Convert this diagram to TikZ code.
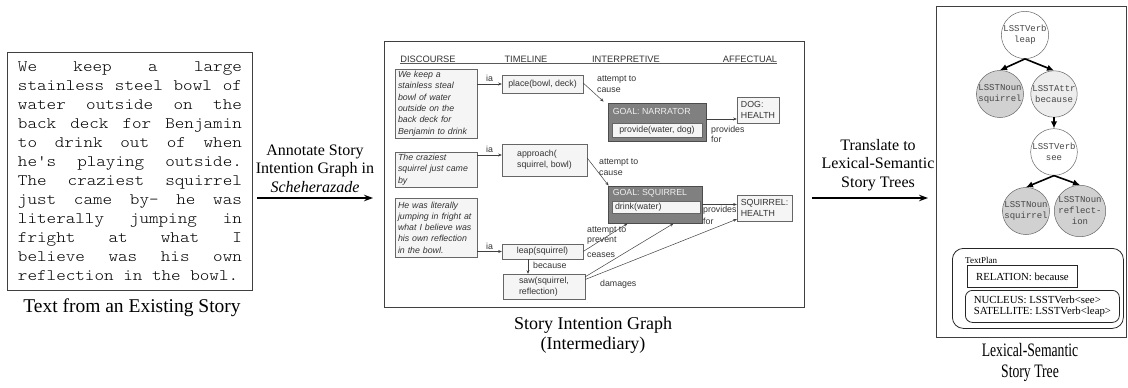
\documentclass[tikz,border=0pt]{standalone}
\usepackage{fontspec}
\usepackage{graphicx}
\setmainfont{Liberation Serif}
\newfontfamily\sigsans{Liberation Sans}
\newfontfamily\courierlike{Liberation Mono}
\newfontfamily\typewriter[FakeStretch=1.14]{Latin Modern Mono Light}
\usetikzlibrary{arrows.meta,calc}

% one justified line of the story text
\newcommand\jl[1]{\hbox to 224pt{#1}}

\tikzset{
  panel/.style={draw=black!75, line width=0.9pt, inner sep=0pt},
  captiontext/.style={font=\fontsize{18}{20}\selectfont, align=center, inner sep=0pt},
  steplabel/.style={font=\fontsize{16}{18.5}\selectfont, align=center, inner sep=0pt},
  bigarrow/.style={-{Stealth[length=9pt,width=6.5pt]}, line width=1.1pt},
  sigtxt/.style={font=\sigsans\fontsize{8.8}{10.8}\selectfont, text=black!80, align=left, inner sep=0pt},
  hdr/.style={font=\sigsans\fontsize{9.3}{11}\selectfont, text=black!80, inner sep=0pt},
  discbox/.style={draw=black!60, fill=black!4, text=black!80, text width=76pt, align=left,
    inner xsep=3pt, inner ysep=1pt, font=\sigsans\itshape\fontsize{8.8}{11.3}\selectfont},
  evbox/.style={draw=black!60, fill=black!4, text=black!80, align=left, inner sep=2pt,
    font=\sigsans\fontsize{8.8}{11}\selectfont},
  goalbox/.style={draw=black!70, line width=0.9pt, fill=black!50, inner sep=0pt},
  goaltitle/.style={font=\sigsans\fontsize{8.8}{11}\selectfont, text=black!6, inner sep=0pt},
  sigarrow/.style={-{Stealth[length=3.6pt,width=3pt]}, line width=0.5pt, draw=black!75},
  treenode/.style={circle, draw=black!60, line width=0.5pt, minimum size=45pt, inner sep=0pt,
    align=center, text=black!72, font=\courierlike\fontsize{9}{11}\selectfont},
  nounnode/.style={treenode, fill=black!18},
  attrnode/.style={treenode, fill=black!7},
  verbnode/.style={treenode, fill=white},
  treearrow/.style={-{Latex[length=7pt,width=6.5pt]}, line width=1.6pt},
  planbox/.style={draw=black!85, line width=0.8pt, inner sep=0pt},
  plantxt/.style={font=\fontsize{10.8}{10.8}\selectfont, align=left, inner sep=0pt}
}

\begin{document}
\begin{tikzpicture}[x=1pt, y=-1pt]
\useasboundingbox (0,0) rectangle (1128,388);

% ---------- source text ----------
\node[panel, minimum width=245pt, minimum height=238pt, anchor=north west] (story) at (7,52) {};
\node[font=\typewriter\fontsize{16}{19}\selectfont, align=left, inner sep=0pt] (storytext) at (story.center) {%
\jl{We\hfill keep\hfill a\hfill large}\\
\jl{stainless\hfill steel\hfill bowl\hfill of}\\
\jl{water\hfill outside\hfill on\hfill the}\\
\jl{back\hfill deck\hfill for\hfill Benjamin}\\
\jl{to\hfill drink\hfill out\hfill of\hfill when}\\
\jl{he's\hfill playing\hfill outside.}\\
\jl{The\hfill craziest\hfill squirrel}\\
\jl{just\hfill came\hfill by-\hfill he\hfill was}\\
\jl{literally\hfill jumping\hfill in}\\
\jl{fright\hfill at\hfill what\hfill I}\\
\jl{believe\hfill was\hfill his\hfill own}\\
\hbox{reflection in the bowl.}};
\node[captiontext, font=\fontsize{19.5}{21}\selectfont] (cap1) at (132,308) {Text from an Existing Story};

% ---------- step arrows ----------
\coordinate (arrowrow) at (0,198);
\node[panel, minimum width=420pt, minimum height=266pt, anchor=north west] (sig) at (384,41) {};
\node[panel, minimum width=190pt, minimum height=331pt, anchor=north west] (lst) at (936,6) {};

\draw[bigarrow] ($(story.east |- arrowrow)+(4,0)$) -- ($(sig.west |- arrowrow)+(-11,0)$);
\node[steplabel] (step1) at (315,168.5) {Annotate Story\\Intention Graph in\\\textit{Scheherazade}};

\draw[bigarrow] ($(sig.east |- arrowrow)+(7,0)$) -- ($(lst.west |- arrowrow)+(-8,0)$);
\node[steplabel] (step2) at (878,165) {Translate to\\Lexical-Semantic\\Story Trees};

% ---------- story intention graph ----------
\node[hdr, anchor=base] (hdDisc) at (428,62) {DISCOURSE};
\node[hdr, anchor=base] (hdTime) at (526,62) {TIMELINE};
\node[hdr, anchor=base] (hdInt) at (626,62) {INTERPRETIVE};
\node[hdr, anchor=base] (hdAff) at (750,62) {AFFECTUAL};
\draw[black!65, line width=0.6pt] ($(hdDisc.south west)+(0,1.5)$) -- ($(hdAff.south east)+(0,1.5)$);

% discourse column
\node[discbox, minimum height=69pt] (d1) at (436,103.5) {We keep a\\stainless steal\\bowl of water\\outside on the\\back deck for\\Benjamin to drink};
\node[discbox, minimum height=35pt] (d2) at (436,169.5) {The craziest\\squirrel just came\\by};
\node[discbox, minimum height=59pt] (d3) at (436,227.5) {He was literally\\jumping in fright at\\what I believe was\\his own reflection\\in the bowl.};

% timeline column
\node[evbox, minimum width=81pt, minimum height=18pt] (place) at (542.5,84) {place(bowl, deck)};
\node[evbox, minimum width=85pt, minimum height=32pt] (approach) at (544.5,160) {approach(\\squirrel, bowl)};
\node[evbox, minimum width=81pt, minimum height=15pt] (leap) at (542.5,251.5) {leap(squirrel)};
\node[evbox, minimum width=82pt, minimum height=25pt] (saw) at (544,286.5) {saw(squirrel,\\reflection)};

% interpretive column
\node[goalbox, minimum width=98pt, minimum height=38pt] (gN) at (657,122) {};
\node[goaltitle, anchor=west] (gNt) at ($(gN.north west)+(5,9)$) {GOAL: NARRATOR};
\node[evbox, minimum width=90pt, minimum height=14pt, inner sep=0pt] (pN) at (657,130) {provide(water, dog)};
\node[goalbox, minimum width=94pt, minimum height=37pt] (gS) at (655,204.5) {};
\node[goaltitle, anchor=west] (gSt) at ($(gS.north west)+(5,8)$) {GOAL: SQUIRREL};
\node[evbox, minimum width=88pt, minimum height=12pt, inner sep=0pt, text width=82pt] (dS) at (656,207) {drink(water)};

% affectual column
\node[evbox, minimum width=42pt, minimum height=26pt] (dog) at (758,110) {DOG:\\HEALTH};
\node[evbox, minimum width=55pt, minimum height=26pt] (sqh) at (764.5,208) {SQUIRREL:\\HEALTH};

% links
\draw[sigarrow] (d1.east |- place.west) -- node[sigtxt, above=2pt] {ia} (place.west);
\coordinate (apIn) at ($(approach.west)+(0,-5)$);
\draw[sigarrow] (d2.east |- apIn) -- node[sigtxt, above=2pt] {ia} (apIn);
\draw[sigarrow] (d3.east |- leap.west) -- node[sigtxt, above=2pt] {ia} (leap.west);

\draw[sigarrow] ($(place.east)+(0,-1)$) -- ($(gN.north west)+(-4,-1)$);
\node[sigtxt, anchor=west] (lab1) at (597,84.5) {attempt to\\cause};
\draw[sigarrow] ($(approach.east)+(0,-2)$) -- ($(gS.north west)+(1,0)$);
\node[sigtxt, anchor=west] (lab2) at (599,167) {attempt to\\cause};

\coordinate (nOut) at ($(gN.east)+(0,-3)$);
\draw[sigarrow] (nOut) -- (nOut -| dog.west);
\node[sigtxt, anchor=west, font=\sigsans\fontsize{8.8}{9.8}\selectfont] (lab3) at (711,134.5) {provides\\for};
\draw[sigarrow] (gS.east) -- (gS.east -| sqh.west);
\node[sigtxt, anchor=west, font=\sigsans\fontsize{8.8}{12}\selectfont] (lab4) at (703,215.5) {provides\\for};

\coordinate (bx) at (528,0);
\draw[sigarrow] (leap.south -| bx) -- (saw.north -| bx);
\node[sigtxt, anchor=west] (lab5) at (533,265) {because};

\draw[sigarrow] (leap.east) -- ($(gS.south west)+(20,0)$);
\node[sigtxt, anchor=west] (lab6) at (587,235.5) {attempt to\\prevent};
\draw[sigarrow] ($(saw.north east)+(0,3)$) -- ($(gS.south west)+(66,0)$);
\node[sigtxt, anchor=west] (lab7) at (587,255) {ceases};
\draw[sigarrow] ($(saw.east)+(0,-7)$) -- ($(sqh.south west)+(0,-2)$);
\node[sigtxt, anchor=west] (lab8) at (600,284) {damages};

\node[captiontext] (cap2) at (593,335) {Story Intention Graph\\(Intermediary)};

% ---------- lexical-semantic story tree ----------
\node[verbnode, minimum size=43pt] (v1) at (1025,35) {LSSTVerb\\leap};
\node[nounnode] (n1) at (1000,94) {LSSTNoun\\squirrel};
\node[attrnode] (a1) at (1054,94) {LSSTAttr\\because};
\node[verbnode] (v2) at (1054,152) {LSSTVerb\\see};
\node[nounnode] (n2) at (1026,211) {LSSTNoun\\squirrel};
\node[nounnode] (n3) at (1080,211) {LSSTNoun\\reflect-\\ion};

\draw[treearrow] (v1.south) -- (n1.north);
\draw[treearrow] (v1.south) -- (a1.north);
\draw[treearrow] (a1.south) -- (v2.north);
\draw[treearrow] (v2.south) -- (n2.north);
\draw[treearrow] (v2.south) -- (n3.north);

\node[planbox, rounded corners=11pt, minimum width=171pt, minimum height=80pt, anchor=north west] (plan) at (952,248) {};
\node[plantxt, font=\fontsize{9}{10}\selectfont, anchor=west] (planlab) at (965,260) {TextPlan};
\node[planbox, plantxt, minimum width=110pt, minimum height=22pt, anchor=north west] (rel) at (967,265) {RELATION: because};
\node[planbox, plantxt, rounded corners=7pt, minimum width=154pt, minimum height=32pt, anchor=north west] (nuc) at (965,290) {NUCLEUS: LSSTVerb<see>\\SATELLITE: LSSTVerb<leap>};

\node[captiontext, font=\fontsize{19}{21}\selectfont] (cap3) at (1030,362.5) {\scalebox{0.72}[1]{Lexical-Semantic}\\\scalebox{0.72}[1]{Story Tree}};
\end{tikzpicture}
\end{document}
